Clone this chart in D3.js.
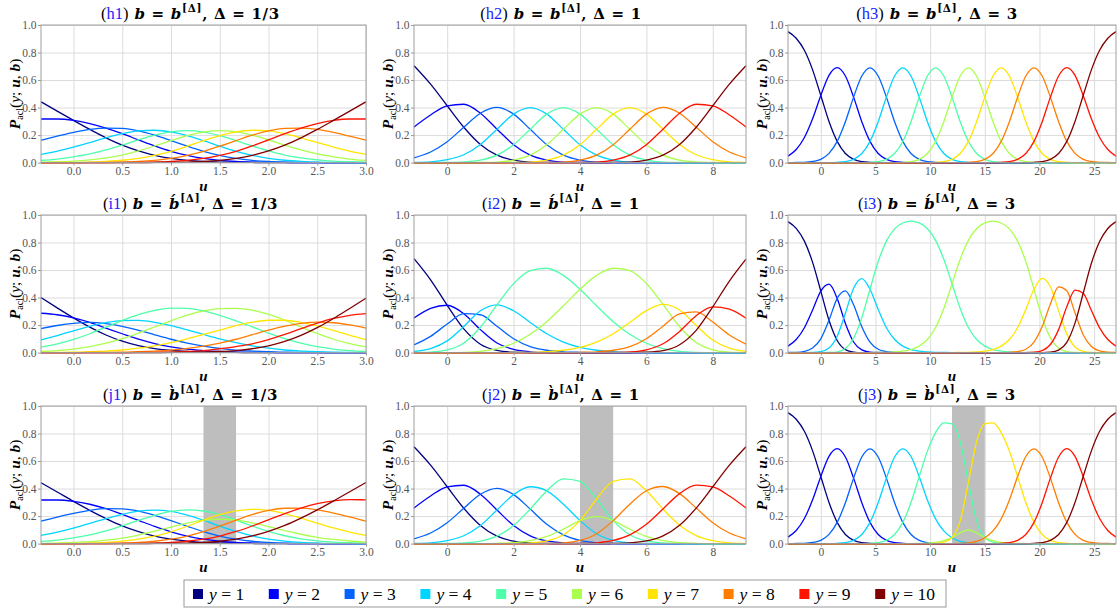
<!DOCTYPE html>
<html>
<head>
<meta charset="utf-8">
<title>P_acl panels</title>
<script src="https://cdn.jsdelivr.net/npm/d3@7"></script>
<style>
  body { margin: 0; background: #fff; }
  svg text { font-family: "Liberation Serif", "DejaVu Serif", serif; }
  .grid line { stroke: #dcdcdc; stroke-width: 1; }
  .axis line { stroke: #999; }
  .axis text { fill: #555; }
  .curve { fill: none; stroke-width: 1.3; }
  .math { font-family: "DejaVu Serif", serif; font-weight: bold; letter-spacing: 0.7px; }
</style>
</head>
<body>
<svg id="chart" width="1117" height="611"></svg>
<script>
// ---- x grids (u) for the three columns, Delta = 1/3, 1, 3
var uThird = [-0.333,-0.167,0,0.167,0.333,0.5,0.667,0.833,1,1.167,1.333,1.5,1.667,1.833,2,2.167,2.333,2.5,2.667,2.833,3];
var uOne = [-1,-0.5,0,0.5,1,1.5,2,2.5,3,3.5,4,4.5,5,5.5,6,6.5,7,7.5,8,8.5,9];
var uThree = [-3,-2.25,-1.5,-0.75,0,0.75,1.5,2.25,3,3.75,4.5,5.25,6,6.75,7.5,8.25,9,9.75,10.5,11.25,12,12.75,13.5,14.25,15,15.75,16.5,17.25,18,18.75,19.5,20.25,21,21.75,22.5,23.25,24,24.75,25.5,26.25,27];

var ticksThird = [0, 0.5, 1, 1.5, 2, 2.5, 3];
var ticksOne = [0, 2, 4, 6, 8];
var ticksThree = [0, 5, 10, 15, 20, 25];
var yTicks = [0, 0.2, 0.4, 0.6, 0.8, 1];
var deltaLabels = ["1/3", "1", "3"];
var rowLetters = ["h", "i", "j"];
var categories = [1, 2, 3, 4, 5, 6, 7, 8, 9, 10];
// grey bands of row j (disordered thresholds)
var bands = [[1.333, 1.667], [4, 5], [12, 15]];

// ---- P_acl(y; u, b), one row per y = 1..10
var pH1 = [
 [.442,.374,.307,.241,.180,.127,.085,.053,.030,.016,.008,.004,.002,.001,0,0,0,0,0,0,0],
 [.317,.317,.307,.284,.251,.210,.165,.121,.082,.052,.030,.016,.008,.004,.002,.001,0,0,0,0,0],
 [.163,.192,.220,.241,.251,.248,.230,.199,.160,.119,.082,.052,.030,.016,.008,.004,.002,.001,0,0,0],
 [.060,.084,.113,.146,.180,.210,.230,.235,.223,.196,.159,.119,.082,.053,.031,.017,.009,.004,.002,.001,0],
 [.016,.026,.042,.063,.092,.127,.165,.199,.223,.232,.222,.196,.160,.121,.085,.055,.034,.020,.011,.006,.003],
 [.003,.006,.011,.020,.034,.055,.085,.121,.160,.196,.222,.232,.223,.199,.165,.127,.092,.063,.042,.026,.016],
 [0,.001,.002,.004,.009,.017,.031,.053,.082,.119,.159,.196,.223,.235,.230,.210,.180,.146,.113,.084,.060],
 [0,0,0,.001,.002,.004,.008,.016,.030,.052,.082,.119,.160,.199,.230,.248,.251,.241,.220,.192,.163],
 [0,0,0,0,0,.001,.002,.004,.008,.016,.030,.052,.082,.121,.165,.210,.251,.284,.307,.317,.317],
 [0,0,0,0,0,0,0,.001,.002,.004,.008,.016,.030,.053,.085,.127,.180,.241,.307,.374,.442]
];
var pH2 = [
 [.704,.570,.413,.257,.132,.054,.018,.004,.001,0,0,0,0,0,0,0,0,0,0,0,0],
 [.259,.346,.413,.424,.359,.243,.130,.054,.018,.004,.001,0,0,0,0,0,0,0,0,0,0],
 [.035,.077,.152,.257,.359,.401,.352,.242,.130,.054,.018,.004,.001,0,0,0,0,0,0,0,0],
 [.002,.006,.021,.057,.132,.243,.352,.399,.352,.242,.130,.054,.018,.004,.001,0,0,0,0,0,0],
 [0,0,.001,.005,.018,.054,.130,.242,.352,.399,.352,.242,.130,.054,.018,.004,.001,0,0,0,0],
 [0,0,0,0,.001,.004,.018,.054,.130,.242,.352,.399,.352,.242,.130,.054,.018,.005,.001,0,0],
 [0,0,0,0,0,0,.001,.004,.018,.054,.130,.242,.352,.399,.352,.243,.132,.057,.021,.006,.002],
 [0,0,0,0,0,0,0,0,.001,.004,.018,.054,.130,.242,.352,.401,.359,.257,.152,.077,.035],
 [0,0,0,0,0,0,0,0,0,0,.001,.004,.018,.054,.130,.243,.359,.424,.413,.346,.259],
 [0,0,0,0,0,0,0,0,0,0,0,0,.001,.004,.018,.054,.132,.257,.413,.570,.704]
];
var pH3 = [
 [.952,.904,.816,.674,.488,.299,.154,.066,.024,.007, .002,0,0,0,0,0,0,0,0,0, 0,0,0,0,0,0,0,0,0,0, 0,0,0,0,0,0,0,0,0,0, 0],
 [.047,.095,.182,.318,.488,.634,.690,.629,.476,.297, .154,.066,.024,.007,.002,0,0,0,0,0, 0,0,0,0,0,0,0,0,0,0, 0,0,0,0,0,0,0,0,0,0, 0],
 [0,.001,.002,.008,.024,.067,.154,.297,.476,.629, .689,.629,.476,.297,.154,.066,.024,.007,.002,0, 0,0,0,0,0,0,0,0,0,0, 0,0,0,0,0,0,0,0,0,0, 0],
 [0,0,0,0,0,0,.002,.007,.024,.066, .154,.297,.476,.629,.689,.629,.476,.297,.154,.066, .024,.007,.002,0,0,0,0,0,0,0, 0,0,0,0,0,0,0,0,0,0, 0],
 [0,0,0,0,0,0,0,0,0,0, .002,.007,.024,.066,.154,.297,.476,.629,.689,.629, .476,.297,.154,.066,.024,.007,.002,0,0,0, 0,0,0,0,0,0,0,0,0,0, 0],
 [0,0,0,0,0,0,0,0,0,0, 0,0,0,0,.002,.007,.024,.066,.154,.297, .476,.629,.689,.629,.476,.297,.154,.066,.024,.007, .002,0,0,0,0,0,0,0,0,0, 0],
 [0,0,0,0,0,0,0,0,0,0, 0,0,0,0,0,0,0,0,.002,.007, .024,.066,.154,.297,.476,.629,.689,.629,.476,.297, .154,.066,.024,.007,.002,0,0,0,0,0, 0],
 [0,0,0,0,0,0,0,0,0,0, 0,0,0,0,0,0,0,0,0,0, 0,0,.002,.007,.024,.066,.154,.297,.476,.629, .689,.629,.476,.297,.154,.067,.024,.008,.002,.001, 0],
 [0,0,0,0,0,0,0,0,0,0, 0,0,0,0,0,0,0,0,0,0, 0,0,0,0,0,0,.002,.007,.024,.066, .154,.297,.476,.629,.690,.634,.488,.318,.182,.095, .047],
 [0,0,0,0,0,0,0,0,0,0, 0,0,0,0,0,0,0,0,0,0, 0,0,0,0,0,0,0,0,0,0, .002,.007,.024,.066,.154,.299,.488,.674,.816,.904, .952]
];
var pI1 = [
 [.400,.325,.252,.185,.128,.083,.050,.029,.016,.008,.004,.002,.001,0,0,0,0,0,0,0,0],
 [.286,.275,.252,.219,.178,.137,.098,.066,.042,.025,.015,.008,.004,.002,.001,0,0,0,0,0,0],
 [.174,.197,.213,.219,.211,.191,.162,.129,.097,.069,.047,.030,.018,.011,.006,.003,.001,.001,0,0,0],
 [.092,.124,.158,.191,.218,.233,.234,.220,.196,.165,.132,.100,.072,.049,.032,.019,.011,.006,.003,.001,.001],
 [.040,.063,.096,.137,.185,.233,.276,.307,.323,.321,.303,.271,.231,.187,.142,.102,.069,.043,.026,.014,.008],
 [.008,.014,.025,.043,.068,.101,.142,.186,.231,.272,.303,.320,.322,.308,.277,.235,.186,.139,.097,.065,.041],
 [.001,.001,.003,.006,.011,.019,.032,.049,.072,.100,.132,.164,.196,.221,.235,.235,.220,.194,.161,.126,.094],
 [0,0,0,.001,.001,.003,.006,.011,.018,.030,.047,.069,.097,.130,.163,.192,.213,.222,.217,.201,.178],
 [0,0,0,0,0,0,.001,.002,.004,.008,.014,.028,.044,.064,.095,.133,.174,.214,.248,.271,.283],
 [0,0,0,0,0,0,0,0,.001,.002,.004,.008,.015,.028,.049,.081,.125,.181,.248,.321,.395]
];
var pI2 = [
 [.683,.529,.344,.172,.061,.016,.003,0,0,0,0,0,0,0,0,0,0,0,0,0,0],
 [.251,.321,.344,.283,.167,.070,.023,.006,.001,0,0,0,0,0,0,0,0,0,0,0,0],
 [.056,.118,.208,.283,.275,.191,.101,.044,.017,.006,.002,0,0,0,0,0,0,0,0,0,0],
 [.008,.029,.085,.190,.304,.347,.304,.219,.137,.076,.038,.017,.007,.002,.001,0,0,0,0,0,0],
 [.001,.004,.019,.070,.184,.347,.501,.595,.613,.561,.460,.340,.225,.133,.068,.029,.009,.002,0,0,0],
 [0,0,0,.002,.009,.029,.068,.133,.225,.340,.460,.561,.613,.596,.502,.350,.188,.073,.020,.004,.001],
 [0,0,0,0,0,0,.001,.002,.007,.017,.038,.076,.137,.219,.305,.350,.310,.198,.091,.032,.009],
 [0,0,0,0,0,0,0,0,0,0,.002,.006,.017,.044,.101,.192,.281,.296,.223,.128,.062],
 [0,0,0,0,0,0,0,0,0,0,0,0,.001,.005,.020,.064,.154,.268,.333,.316,.250],
 [0,0,0,0,0,0,0,0,0,0,0,0,0,0,.003,.014,.057,.162,.333,.520,.679]
];
var pI3 = [
 [.952,.903,.810,.656,.447,.235,.088,.022,.004,0, 0,0,0,0,0,0,0,0,0,0, 0,0,0,0,0,0,0,0,0,0, 0,0,0,0,0,0,0,0,0,0, 0],
 [.047,.095,.181,.310,.447,.497,.394,.212,.077,.020, .004,.001,0,0,0,0,0,0,0,0, 0,0,0,0,0,0,0,0,0,0, 0,0,0,0,0,0,0,0,0,0, 0],
 [.001,.002,.009,.033,.100,.235,.394,.449,.347,.188, .076,.024,.007,.002,0,0,0,0,0,0, 0,0,0,0,0,0,0,0,0,0, 0,0,0,0,0,0,0,0,0,0, 0],
 [0,0,0,.001,.007,.033,.119,.286,.468,.538, .460,.313,.181,.095,.047,.022,.010,.005,.002,.001, 0,0,0,0,0,0,0,0,0,0, 0,0,0,0,0,0,0,0,0,0, 0],
 [0,0,0,0,0,.001,.006,.030,.104,.254, .460,.662,.810,.899,.942,.955,.943,.900,.816,.678, .500,.321,.182,.095,.047,.022,.010,.005,.002,.001, 0,0,0,0,0,0,0,0,0,0, 0],
 [0,0,0,0,0,0,0,0,0,0, 0,.001,.002,.005,.010,.022,.047,.095,.182,.321, .500,.679,.816,.900,.943,.955,.942,.899,.810,.662, .460,.255,.107,.032,.007,.001,0,0,0,0, 0],
 [0,0,0,0,0,0,0,0,0,0, 0,0,0,0,0,0,0,0,0,0, 0,.001,.002,.005,.010,.022,.047,.095,.181,.313, .460,.540,.478,.305,.136,.041,.009,.001,0,0, 0],
 [0,0,0,0,0,0,0,0,0,0, 0,0,0,0,0,0,0,0,0,0, 0,0,0,0,0,0,0,.002,.007,.024, .076,.189,.354,.478,.450,.289,.130,.044,.012,.003, .001],
 [0,0,0,0,0,0,0,0,0,0, 0,0,0,0,0,0,0,0,0,0, 0,0,0,0,0,0,0,0,0,0, .003,.015,.059,.167,.333,.454,.431,.306,.180,.095, .047],
 [0,0,0,0,0,0,0,0,0,0, 0,0,0,0,0,0,0,0,0,0, 0,0,0,0,0,0,0,0,0,0, 0,0,.003,.018,.074,.214,.431,.649,.808,.902, .952]
];
var pJ1 = [
 [.442,.375,.307,.242,.182,.129,.087,.054,.032,.017,.008,.004,.002,.001,0,0,0,0,0,0,0],
 [.317,.317,.307,.286,.254,.213,.169,.125,.086,.055,.032,.017,.008,.004,.002,.001,0,0,0,0,0],
 [.163,.193,.220,.242,.254,.252,.236,.206,.167,.126,.087,.055,.032,.017,.009,.004,.002,.001,0,0,0],
 [.060,.084,.113,.147,.182,.213,.236,.243,.234,.207,.170,.127,.088,.056,.033,.018,.009,.004,.002,.001,0],
 [.016,.026,.042,.064,.093,.129,.169,.206,.234,.245,.237,.210,.171,.128,.089,.057,.035,.020,.011,.006,.003],
 [.002,.004,.008,.014,.025,.040,.062,.090,.120,.149,.170,.177,.171,.151,.124,.095,.068,.046,.030,.019,.011],
 [0,.001,.002,.004,.009,.018,.032,.054,.086,.126,.170,.210,.238,.249,.241,.218,.185,.149,.114,.084,.060],
 [0,0,0,.001,.002,.004,.008,.017,.032,.055,.087,.127,.171,.211,.241,.257,.258,.245,.222,.194,.163],
 [0,0,0,0,0,.001,.002,.004,.008,.017,.032,.055,.088,.128,.173,.218,.258,.290,.310,.319,.318],
 [0,0,0,0,0,0,0,.001,.002,.004,.008,.017,.032,.056,.089,.132,.185,.245,.310,.377,.444]
];
var pJ2 = [
 [.704,.570,.413,.257,.132,.054,.018,.005,.001,0,0,0,0,0,0,0,0,0,0,0,0],
 [.259,.346,.413,.424,.359,.244,.131,.056,.019,.005,.001,0,0,0,0,0,0,0,0,0,0],
 [.035,.077,.152,.257,.359,.402,.356,.251,.141,.064,.023,.006,.001,0,0,0,0,0,0,0,0],
 [.002,.006,.021,.057,.132,.244,.356,.413,.383,.286,.167,.072,.023,.005,.001,0,0,0,0,0,0],
 [0,0,.001,.005,.018,.054,.131,.251,.383,.471,.453,.324,.167,.064,.019,.005,.001,0,0,0,0],
 [0,0,0,0,0,.002,.007,.021,.052,.105,.167,.196,.167,.105,.052,.021,.007,.002,0,0,0],
 [0,0,0,0,0,0,.001,.005,.019,.064,.167,.324,.453,.471,.384,.252,.133,.058,.021,.006,.002],
 [0,0,0,0,0,0,0,0,.001,.005,.023,.072,.167,.286,.384,.415,.363,.258,.152,.077,.035],
 [0,0,0,0,0,0,0,0,0,0,.001,.006,.023,.064,.141,.252,.363,.425,.413,.346,.259],
 [0,0,0,0,0,0,0,0,0,0,0,0,.001,.005,.019,.056,.133,.258,.413,.570,.704]
];
var pJ3 = [
 [.952,.904,.816,.674,.488,.299,.154,.066,.024,.007, .002,0,0,0,0,0,0,0,0,0, 0,0,0,0,0,0,0,0,0,0, 0,0,0,0,0,0,0,0,0,0, 0],
 [.047,.095,.182,.318,.488,.634,.690,.629,.476,.297, .154,.066,.024,.007,.002,0,0,0,0,0, 0,0,0,0,0,0,0,0,0,0, 0,0,0,0,0,0,0,0,0,0, 0],
 [0,.001,.002,.008,.024,.067,.154,.297,.476,.629, .689,.629,.476,.297,.154,.066,.024,.007,.002,0, 0,0,0,0,0,0,0,0,0,0, 0,0,0,0,0,0,0,0,0,0, 0],
 [0,0,0,0,0,0,.002,.007,.024,.066, .154,.297,.476,.629,.689,.633,.487,.317,.180,.092, .043,.017,.005,.001,0,0,0,0,0,0, 0,0,0,0,0,0,0,0,0,0, 0],
 [0,0,0,0,0,0,0,0,0,0, .002,.007,.024,.066,.154,.299,.487,.672,.807,.877, .870,.739,.445,.165,.043,.010,.002,0,0,0, 0,0,0,0,0,0,0,0,0,0, 0],
 [0,0,0,0,0,0,0,0,0,0, 0,0,0,0,0,0,.001,.004,.009,.021, .043,.078,.099,.078,.043,.021,.009,.004,.001,0, 0,0,0,0,0,0,0,0,0,0, 0],
 [0,0,0,0,0,0,0,0,0,0, 0,0,0,0,0,0,0,0,.002,.010, .043,.165,.445,.739,.870,.877,.807,.672,.487,.299, .154,.066,.024,.007,.002,0,0,0,0,0, 0],
 [0,0,0,0,0,0,0,0,0,0, 0,0,0,0,0,0,0,0,0,0, 0,.001,.005,.017,.043,.092,.180,.317,.487,.633, .689,.629,.476,.297,.154,.067,.024,.008,.002,.001, 0],
 [0,0,0,0,0,0,0,0,0,0, 0,0,0,0,0,0,0,0,0,0, 0,0,0,0,0,0,.002,.007,.024,.066, .154,.297,.476,.629,.690,.634,.488,.318,.182,.095, .047],
 [0,0,0,0,0,0,0,0,0,0, 0,0,0,0,0,0,0,0,0,0, 0,0,0,0,0,0,0,0,0,0, .002,.007,.024,.066,.154,.299,.488,.674,.816,.904, .952]
];

// ---- layout
var colors = ["#000080", "#0000ff", "#0063ff", "#00d4ff", "#4dffaa", "#aaff4d", "#ffe500", "#ff7d00", "#ff1400", "#800000"];
var colX = [[41, 366], [414, 746], [788, 1116]];
var titleShift = [-13, -19, -15];
var rowTop = [25, 215, 406];
var plotH = 137.6;
var domains = [[-1/3, 3], [-1, 9], [-3, 27]];
var grids = [uThird, uOne, uThree];
var xTicks = [ticksThird, ticksOne, ticksThree];
var xFormats = [d3.format(".1f"), d3.format("d"), d3.format("d")];
var data = [[pH1, pH2, pH3], [pI1, pI2, pI3], [pJ1, pJ2, pJ3]];
var accents = ["", "\u0301", "\u0300"];
var fontStack = "Liberation Serif, DejaVu Serif, serif";

var svg = d3.select("#chart");
svg.append("rect").attr("width", 1117).attr("height", 611).attr("fill", "#fff");

function panel(r, c) {
	var x0 = colX[c][0], x1 = colX[c][1], top = rowTop[r], bottom = top + plotH;
	var x = d3.scaleLinear().domain(domains[c]).range([x0, x1]);
	var y = d3.scaleLinear().domain([0, 1]).range([bottom, top]);
	var g = svg.append("g");

	g.append("g").attr("class", "grid")
		.attr("transform", "translate(0," + bottom + ")")
		.call(d3.axisBottom(x).tickValues(xTicks[c]).tickSize(-plotH).tickFormat(""))
		.call(function(s) { s.select(".domain").remove(); });
	g.append("g").attr("class", "grid")
		.attr("transform", "translate(" + x0 + ",0)")
		.call(d3.axisLeft(y).tickValues(yTicks).tickSize(-(x1 - x0)).tickFormat(""))
		.call(function(s) { s.select(".domain").remove(); });

	if (r === 2) {
		g.append("rect")
			.attr("x", x(bands[c][0]))
			.attr("y", top)
			.attr("width", x(bands[c][1]) - x(bands[c][0]))
			.attr("height", plotH)
			.attr("fill", "#bebebe");
	}

	var u = grids[c];
	var line = d3.line()
		.x(function(d, i) { return x(u[i]); })
		.y(function(d) { return y(d); })
		.curve(d3.curveMonotoneX);

	g.selectAll("path.curve")
		.data(data[r][c])
		.join("path")
		.attr("class", "curve")
		.attr("stroke", function(d, i) { return colors[i]; })
		.attr("d", line);

	g.append("rect")
		.attr("x", x0).attr("y", top)
		.attr("width", x1 - x0).attr("height", plotH)
		.attr("fill", "none").attr("stroke", "#a0a0a0").attr("stroke-width", 1);

	g.append("g").attr("class", "axis")
		.attr("transform", "translate(0," + bottom + ")")
		.call(d3.axisBottom(x).tickValues(xTicks[c]).tickSize(3).tickPadding(1.5).tickFormat(xFormats[c]))
		.call(function(s) {
			s.select(".domain").remove();
			s.attr("font-family", fontStack).attr("font-size", 11.5);
		});
	g.append("g").attr("class", "axis")
		.attr("transform", "translate(" + x0 + ",0)")
		.call(d3.axisLeft(y).tickValues(yTicks).tickSize(3).tickPadding(1.5).tickFormat(d3.format(".1f")))
		.call(function(s) {
			s.select(".domain").remove();
			s.attr("font-family", fontStack).attr("font-size", 11.5);
		});

	// title
	var t = g.append("text")
		.attr("x", (x0 + x1) / 2 + titleShift[c])
		.attr("y", top - 6)
		.attr("text-anchor", "middle")
		.attr("font-size", 16.5)
		.attr("fill", "#000");
	t.append("tspan").text("(");
	t.append("tspan").attr("fill", "#1a1aff").text(rowLetters[r] + (c + 1));
	t.append("tspan").text(")");
	t.append("tspan").attr("class", "math").attr("font-size", 15).attr("font-style", "italic").text(" b");
	t.append("tspan").attr("class", "math").attr("font-size", 15).text(" = ");
	t.append("tspan").attr("class", "math").attr("font-size", 15).attr("font-style", "italic").text("b" + accents[r]);
	t.append("tspan").attr("class", "math").attr("font-size", 10.5).attr("dy", -7).text("[\u0394]");
	t.append("tspan").attr("class", "math").attr("font-size", 15).attr("dy", 7).text(", \u0394 = " + deltaLabels[c]);

	// y label
	var yl = g.append("text")
		.attr("transform", "translate(" + (x0 - 21) + "," + ((top + bottom) / 2) + ") rotate(-90)")
		.attr("text-anchor", "middle")
		.attr("font-size", 15.5)
		.attr("fill", "#000");
	yl.append("tspan").attr("font-weight", "bold").attr("font-style", "italic").text("P");
	yl.append("tspan").attr("font-size", 10).attr("dy", 3).text("acl");
	yl.append("tspan").attr("dy", -3).text("(");
	yl.append("tspan").attr("font-style", "italic").text("y");
	yl.append("tspan").text("; ");
	yl.append("tspan").attr("font-weight", "bold").attr("font-style", "italic").text("u");
	yl.append("tspan").text(", ");
	yl.append("tspan").attr("font-weight", "bold").attr("font-style", "italic").text("b");
	yl.append("tspan").text(")");

	// x label, kept clear of the tick labels above it
	g.append("text")
		.attr("x", (x0 + x1) / 2)
		.attr("y", bottom + 28.5)
		.attr("text-anchor", "middle")
		.attr("font-size", 15)
		.attr("font-weight", "bold")
		.attr("font-style", "italic")
		.text("u");
}

for (var r = 0; r < 3; r++)
	for (var c = 0; c < 3; c++)
		panel(r, c);

// legend
var legend = svg.append("g");
legend.append("rect")
	.attr("x", 184).attr("y", 580)
	.attr("width", 762).attr("height", 27)
	.attr("fill", "#fff").attr("stroke", "#999").attr("stroke-width", 1);

var item = legend.selectAll("g.item")
	.data(categories)
	.join("g")
	.attr("class", "item")
	.attr("transform", function(d, i) { return "translate(" + (193 + i * 75.8) + ",0)"; });

item.append("rect")
	.attr("x", 0).attr("y", 589)
	.attr("width", 10).attr("height", 10)
	.attr("fill", function(d, i) { return colors[i]; });

var lt = item.append("text")
	.attr("x", 16).attr("y", 600)
	.attr("font-size", 17.5)
	.attr("fill", "#000");
lt.append("tspan").attr("font-style", "italic").text("y");
lt.append("tspan").text(function(d) { return " = " + d; });
</script>
</body>
</html>
